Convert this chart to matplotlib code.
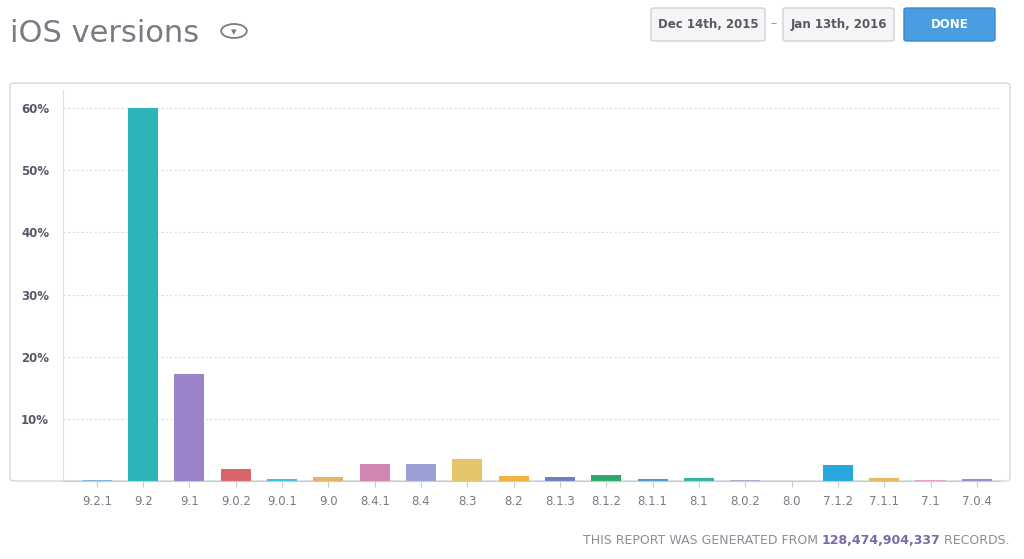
import matplotlib
matplotlib.use("Agg")
import matplotlib.pyplot as plt
from matplotlib.patches import FancyBboxPatch, Circle

versions = ["9.2.1","9.2","9.1","9.0.2","9.0.1","9.0","8.4.1","8.4","8.3","8.2",
            "8.1.3","8.1.2","8.1.1","8.1","8.0.2","8.0","7.1.2","7.1.1","7.1","7.0.4"]
shares = [0.2,60.0,17.2,1.9,0.4,0.6,2.7,2.7,3.5,0.8,0.7,0.9,0.4,0.5,0.2,0.0,2.6,0.5,0.2,0.3]
colors = ["#7fb8e0","#2bb5b8","#9b82c9","#d9646a","#3cc0dc","#e5b560","#d086b0","#9aa0d6",
          "#e5c46a","#f0b240","#6d7fc0","#2aaa6a","#4a9ad8","#35b3a5","#b7a0d0","#cccccc",
          "#29a8e0","#e8b860","#e4a0c8","#9c8cd0"]
yticks = [10,20,30,40,50,60]

W,H = 1024,559
fig = plt.figure(figsize=(10.24,5.59), dpi=100)
fig.patch.set_facecolor("white")

fig.patches.append(FancyBboxPatch((10/W,(H-481)/H),1000/W,(481-83)/H,
    boxstyle="round,pad=0,rounding_size=0.005", transform=fig.transFigure,
    fc="white", ec="#d5d8dc", lw=1, zorder=0))

ax = fig.add_axes([63/W,(H-481)/H,(1000-63)/W,(481-90)/H])
ax.set_zorder(2)
ax.patch.set_visible(False)
x = range(len(versions))
ax.bar(x, shares, width=0.65, color=colors)
ax.set_xlim(-0.73,19.5)
ax.set_ylim(0,62.9)
ax.set_yticks(yticks)
ax.set_yticklabels([f"{v}%" for v in yticks], fontsize=8.5, color="#555a66", fontweight="bold")
ax.set_xticks(list(x))
ax.set_xticklabels(versions, fontsize=8.5, color="#777b85")
ax.tick_params(axis="y", length=0, pad=10)
ax.tick_params(axis="x", length=4, color="#c8ccd2", pad=6)
for s in ["top","right"]:
    ax.spines[s].set_visible(False)
ax.spines["left"].set_color("#dde0e4")
ax.spines["bottom"].set_color("#c8ccd2")
ax.grid(axis="y", color="#dcdfe3", linestyle=(0,(2,2)), lw=0.8)
ax.set_axisbelow(True)

fig.text(10/W,1-33/H,"iOS versions", fontsize=22, color="#777b85", va="center")
fig.patches.append(Circle((234/W,1-31/H),0.0125,transform=fig.transFigure,fc="white",ec="#777b85",lw=1.3))
fig.text(234/W,1-32/H,"▾",fontsize=8,color="#777b85",ha="center",va="center")

def btn(x0,x1,label,fc,ec,tc):
    fig.patches.append(FancyBboxPatch((x0/W,1-41/H),(x1-x0)/W,33/H,
        boxstyle="round,pad=0,rounding_size=0.003",transform=fig.transFigure,fc=fc,ec=ec,lw=1))
    fig.text((x0+x1)/2/W,1-24.5/H,label,fontsize=8.5,color=tc,ha="center",va="center",
             fontweight="bold")
btn(651,765,"Dec 14th, 2015","#f5f5f5","#cfd2d6","#555a66")
btn(783,894,"Jan 13th, 2016","#f5f5f5","#cfd2d6","#555a66")
btn(904,995,"DONE","#4a9de0","#3a8ad0","white")
fig.text(774/W,1-24/H,"–",fontsize=9,color="#999",ha="center",va="center")

t3 = fig.text(1010/W,1-540/H," RECORDS.", fontsize=9, color="#8a8e98", ha="right", va="center")
fig.canvas.draw()
r = fig.canvas.get_renderer()
x3 = t3.get_window_extent(r).x0
t2 = fig.text(x3/W,1-540/H,"128,474,904,337", fontsize=9, color="#7b68a8", ha="right", va="center", fontweight="bold")
x2 = t2.get_window_extent(r).x0
fig.text(x2/W,1-540/H,"THIS REPORT WAS GENERATED FROM ", fontsize=9, color="#8a8e98", ha="right", va="center")
fig.savefig("out.png", dpi=100)
